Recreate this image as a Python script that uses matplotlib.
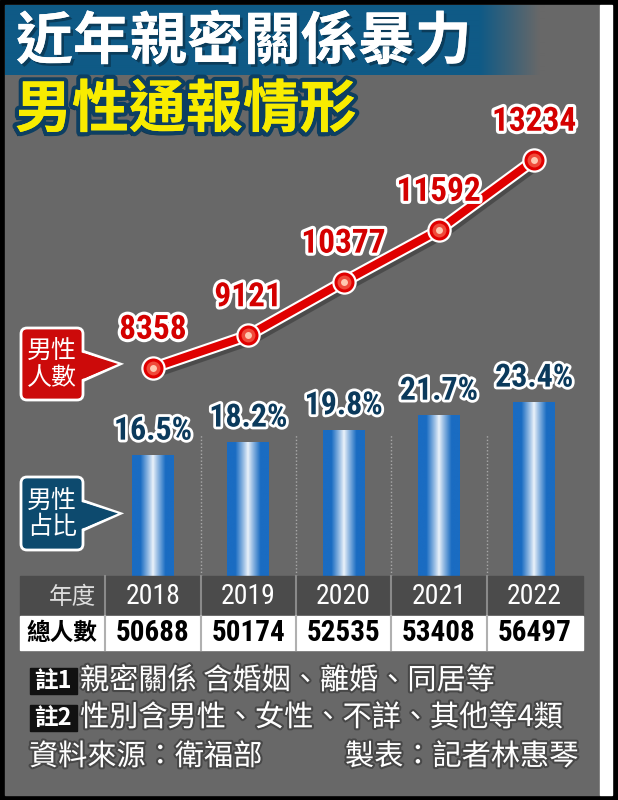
import os
import matplotlib
matplotlib.use('Agg')
import matplotlib.pyplot as plt
import numpy as np
import matplotlib.patheffects as pe
import matplotlib.transforms as mtransforms
from matplotlib import font_manager as fm
from matplotlib.patches import Rectangle, FancyBboxPatch, Polygon
from matplotlib.colors import to_rgb

# ---------------- data ----------------
years = ['2018', '2019', '2020', '2021', '2022']
male_reports = [8358, 9121, 10377, 11592, 13234]
male_share = [16.5, 18.2, 19.8, 21.7, 23.4]
totals = [50688, 50174, 52535, 53408, 56497]
title = '近年親密關係暴力'
subtitle = '男性通報情形'
row_labels = ['年度', '總人數']
callout_line = '男性\n人數'
callout_bar = '男性\n占比'
note_tags = ['註1', '註2']
notes = ['親密關係 含婚姻、離婚、同居等', '性別含男性、女性、不詳、其他等4類']
source = '資料來源：衛福部'
maker = '製表：記者林惠琴'

plt.rcParams['font.family'] = ['Noto Sans CJK TC', 'DejaVu Sans']


# ---------- find a condensed font for the numbers ----------
def _num(v, table, default):
    if isinstance(v, (int, float)):
        return v
    return table.get(v, default)


def pick_condensed(target_weight):
    pref = ['liberation sans narrow', 'roboto condensed', 'open sans condensed',
            'dejavu sans condensed', 'dejavu sans', 'noto sans', 'arial narrow']
    best, best_score = None, None
    for f in fm.fontManager.ttflist:
        name = f.name.lower()
        base = os.path.basename(f.fname).lower()
        st = _num(f.stretch, fm.stretch_dict, 500)
        cond = (st < 500 or 'narrow' in name or 'condensed' in name or 'narrow' in base
                or 'condensed' in base or 'cond' in base)
        if not cond:
            continue
        if 'mono' in name or 'serif' in name or f.style != 'normal':
            continue
        if 'extra' in base or 'ultra' in base:
            continue
        w = _num(f.weight, fm.weight_dict, 400)
        fam_rank = next((i for i, p in enumerate(pref) if name.startswith(p)), len(pref))
        score = (fam_rank, abs(w - target_weight))
        if best_score is None or score < best_score:
            best, best_score = f, score
    return best


_cb = pick_condensed(700)
_cr = pick_condensed(400)
if _cb is not None:
    NUMB = dict(fontproperties=fm.FontProperties(fname=_cb.fname))
    NUMR = dict(fontproperties=fm.FontProperties(fname=(_cr or _cb).fname))
    SCALE = 1.0
else:
    NUMB = dict(family=['Liberation Sans', 'DejaVu Sans'], fontweight='bold')
    NUMR = dict(family=['Liberation Sans', 'DejaVu Sans'])
    SCALE = 0.8


def _props(size, bold=True):
    props = dict(NUMB if bold else NUMR)
    if 'fontproperties' in props:
        fp = props['fontproperties'].copy()
        fp.set_size(size * SCALE)
        props['fontproperties'] = fp
    else:
        props['fontsize'] = size * SCALE
    return props


def numtext(ax, xx, yy, s, size, bold=True, **kw):
    return ax.text(xx, yy, s, **_props(size, bold), **kw)


def numannot(ax, s, xy, dy, size, **kw):
    return ax.annotate(s, xy, xytext=(0, dy), textcoords='offset points', ha='center', va='center',
                       **_props(size, True), **kw)


W, H = 618, 800
fig = plt.figure(figsize=(6.18, 8.0), dpi=100)

# background axes in pixel coordinates (y downward)
bg = fig.add_axes([0, 0, 1, 1])
bg.set_xlim(0, W); bg.set_ylim(H, 0); bg.axis('off')
bg.add_patch(Rectangle((0, 0), W, H, color='black', zorder=0))
bg.add_patch(Rectangle((5, 5), 595, 790, color='#686868', zorder=1))
bg.add_patch(Rectangle((600, 5), 12, 790, color='white', zorder=1))

# title banner with fade
blue = np.array(to_rgb('#0f5a86'))
gray = np.array(to_rgb('#686868'))
xs = np.linspace(5, 545, 540)
f = np.clip((xs - 480) / 60, 0, 1)[:, None]
grad = (blue * (1 - f) + gray * f)[None, :, :]
bg.imshow(grad, extent=[5, 545, 75, 5], aspect='auto', zorder=2, interpolation='bilinear')
bg.set_xlim(0, W); bg.set_ylim(H, 0)

bg.text(16, 42, title, color='white', fontsize=41, fontweight='black', ha='left', va='center', zorder=5,
        path_effects=[pe.withSimplePatchShadow(offset=(2, -2), shadow_rgbFace='#0a3550', alpha=0.8), pe.Normal()])
bg.text(15, 110, subtitle, color='#f8ec00', fontsize=41, fontweight='black', ha='left', va='center', zorder=5,
        path_effects=[pe.withSimplePatchShadow(offset=(-2, -3), shadow_rgbFace='#0a2e48', alpha=0.9),
                      pe.withStroke(linewidth=6, foreground='#0d3f62'), pe.Normal()])

# ---------------- data axes ----------------
x = np.arange(len(years))
c0, step = 153.0, 95.3
xlim = (-c0 / step, (W - c0) / step)

axb = fig.add_axes([0, 0, 1, 1], facecolor='none', label='bars')
axb.axis('off')
bar_w = 0.44
bars = axb.bar(x, male_share, width=bar_w, color='#1a6cc2', zorder=3)
u = np.linspace(0, 1, 200)
t = np.clip(np.abs(u - 0.5) / 0.3, 0, 1) ** 0.9
bcol = np.array(to_rgb('#1a6cc2'))
wcol = np.array(to_rgb('#eef4fb'))
bgrad = (wcol * (1 - t)[:, None] + bcol * t[:, None])[None, :, :]
for rect in bars:
    im = axb.imshow(bgrad, extent=[rect.get_x(), rect.get_x() + rect.get_width(), 0, rect.get_height()],
                    aspect='auto', zorder=4, interpolation='bilinear')
    im.set_clip_path(rect)
for i in range(len(years) - 1):
    axb.axvline(i + 0.5, ymin=(H - 576) / H, ymax=(H - 435) / H, color='#a8a8a8', lw=1, ls=(0, (1, 1.5)), zorder=2)
for xi, v in zip(x, male_share):
    numannot(axb, f'{v}%', (xi, v), 17.5, 23, color='#0b3a5c', zorder=6,
             path_effects=[pe.withStroke(linewidth=4, foreground='white')])
axb.set_xlim(*xlim)
axb.set_ylim(-28.4, 75.7)

axl = fig.add_axes([0, 0, 1, 1], facecolor='none', label='line')
axl.axis('off')
axl.plot(x, male_reports, color='#e00000', lw=5.8, solid_capstyle='round', zorder=3,
         path_effects=[pe.SimpleLineShadow(offset=(1.5, -2), shadow_color='#303030', alpha=0.5, linewidth=10),
                       pe.Stroke(linewidth=8.8, foreground='white'), pe.Normal()])
axl.plot(x, male_reports, 'o', ms=16, mfc='#e00000', mec='white', mew=1.6, zorder=4)
axl.plot(x, male_reports, 'o', ms=10, mfc='#f04a3a', mec='none', zorder=5)
axl.plot(x, male_reports, 'o', ms=5, mfc='#ffc8b0', mec='none', zorder=6)
for xi, v in zip(x, male_reports):
    numannot(axl, f'{v}', (xi, v), 27.5, 24, color='#d40000', zorder=7,
             path_effects=[pe.withStroke(linewidth=4.5, foreground='white')])
axl.set_xlim(*xlim)
axl.set_ylim(-1769, 16984)

# ---------------- foreground (callouts, table, notes) ----------------
fg = fig.add_axes([0, 0, 1, 1], facecolor='none', label='fg')
fg.set_xlim(0, W); fg.set_ylim(H, 0); fg.axis('off')


def callout(y0, y1, color, text):
    ym = (y0 + y1) / 2
    tri = [(82, ym - 13), (120, ym), (82, ym + 17)]
    fg.add_patch(Polygon(tri, closed=True, fc=color, ec='white', lw=2.2, zorder=2))
    fg.add_patch(FancyBboxPatch((21, y0), 62, y1 - y0, boxstyle='round,pad=0,rounding_size=6',
                                fc=color, ec='white', lw=2, zorder=3))
    fg.add_patch(Polygon([(80, ym - 12), (118, ym), (80, ym + 16)], closed=True, fc=color, ec='none', zorder=4))
    fg.text(52, ym + 1, text, color='white', fontsize=18, ha='center', va='center', linespacing=1.0, zorder=5)


callout(328, 400, '#cc0a0a', callout_line)
callout(477, 550, '#0d4a6e', callout_bar)

# table
fg.add_patch(Rectangle((20, 576), 563, 40, color='#4b4b4b', zorder=2))
fg.add_patch(Rectangle((20, 616), 563, 34, color='white', zorder=2))
tx = mtransforms.blended_transform_factory(axl.transData, fg.transData)
for i in range(-1, len(years) - 1):
    fg.plot([i + 0.5, i + 0.5], [576, 616], color='#8a8a8a', lw=1.5, transform=tx, zorder=3)
    fg.plot([i + 0.5, i + 0.5], [616, 650], color='#b0b0b0', lw=1.5, transform=tx, zorder=3)
fg.text(96, 597, row_labels[0], color='#dddddd', fontsize=17, ha='right', va='center', zorder=4)
fg.text(62, 633, row_labels[1], color='black', fontsize=17, fontweight='bold', ha='center', va='center', zorder=4)
for xi, yv, tot in zip(x, years, totals):
    numtext(fg, xi, 597, yv, 20, bold=False, transform=tx, color='white', ha='center', va='center', zorder=4)
    numtext(fg, xi, 633, f'{tot}', 21, bold=True, transform=tx, color='black', ha='center', va='center', zorder=4)

# notes
shadow = [pe.withStroke(linewidth=3, foreground='#3a3a3a', alpha=0.7)]
for k, (tag, note) in enumerate(zip(note_tags, notes)):
    yc = 681 + k * 37
    fg.add_patch(Rectangle((30, yc - 13), 47, 26, color='#111111', zorder=3))
    fg.text(53, yc, tag, color='white', fontsize=17, fontweight='bold', ha='center', va='center', zorder=4)
    fg.text(80, yc, note, color='white', fontsize=21, ha='left', va='center', zorder=4, path_effects=shadow)
fg.text(29, 757, source, color='white', fontsize=21, ha='left', va='center', zorder=4, path_effects=shadow)
fg.text(578, 757, maker, color='white', fontsize=21, ha='right', va='center', zorder=4, path_effects=shadow)

fig.savefig('out.png', dpi=100)
